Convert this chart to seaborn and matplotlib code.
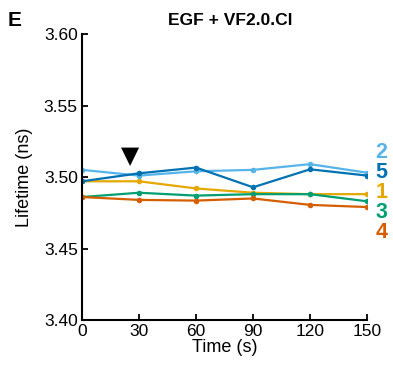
import matplotlib
matplotlib.use("Agg")
import matplotlib.pyplot as plt
import seaborn as sns
import pandas as pd

time_s = [0, 30, 60, 90, 120, 150]
series_1 = [3.497, 3.497, 3.492, 3.489, 3.488, 3.488]
series_2 = [3.505, 3.501, 3.504, 3.505, 3.509, 3.503]
series_3 = [3.486, 3.489, 3.487, 3.488, 3.488, 3.483]
series_4 = [3.486, 3.484, 3.4835, 3.485, 3.4805, 3.479]
series_5 = [3.497, 3.5026, 3.5066, 3.4928, 3.5054, 3.501]
series_names = ["1", "2", "3", "4", "5"]
label_order = ["2", "5", "1", "3", "4"]
colors = {"1": "#E6A800", "2": "#56B4E9", "3": "#009E73", "4": "#D55E00", "5": "#0072B2"}
y_ticks = [3.40, 3.45, 3.50, 3.55, 3.60]
x_ticks = [0, 30, 60, 90, 120, 150]
arrow_time = 25.5

sns.set_theme(style="ticks")
plt.rcParams["font.family"] = ["Liberation Sans", "DejaVu Sans"]
plt.rcParams["text.color"] = "black"
plt.rcParams["axes.labelcolor"] = "black"

rows = []
for name, vals in zip(series_names, [series_1, series_2, series_3, series_4, series_5]):
    for t, v in zip(time_s, vals):
        rows.append({"Time": t, "Lifetime": v, "Series": name})
df = pd.DataFrame(rows)

fig = plt.figure(figsize=(3.93, 3.66), dpi=100)
ax = fig.add_axes([0.2087, 0.1257, 0.7253, 0.7813])
sns.lineplot(data=df, x="Time", y="Lifetime", hue="Series", palette=colors,
             marker="o", markersize=4, markeredgewidth=0, linewidth=1.6,
             legend=False, ax=ax)

ax.set_xlim(0, 150)
ax.set_ylim(3.40, 3.60)
ax.set_xticks(x_ticks)
ax.set_yticks(y_ticks)
ax.set_yticklabels([f"{v:.2f}" for v in y_ticks])
ax.tick_params(direction="in", length=4, width=1.3, labelsize=12.5, colors="black", pad=3)
for s in ["top", "right"]:
    ax.spines[s].set_visible(False)
for s in ["left", "bottom"]:
    ax.spines[s].set_linewidth(1.5)
    ax.spines[s].set_color("black")
ax.set_xlabel("Time (s)", fontsize=13, labelpad=0)
ax.set_ylabel("Lifetime (ns)", fontsize=13, labelpad=8)

ax.text(arrow_time, 3.5145, "\u25BC", ha="center", va="center", fontsize=17,
        color="black", family="DejaVu Sans")

for i, name in enumerate(label_order):
    ax.text(1.05, 0.585 - i * 0.07, name, transform=ax.transAxes, ha="center",
            va="center", fontsize=15.5, fontweight="bold", color=colors[name],
            clip_on=False)

fig.text(0.585, 0.945, "EGF + VF2.0.Cl", ha="center", va="center", fontsize=12.5,
         fontweight="bold")
fig.text(0.036, 0.945, "E", ha="center", va="center", fontsize=15, fontweight="bold")

fig.savefig("out.png", dpi=100)
